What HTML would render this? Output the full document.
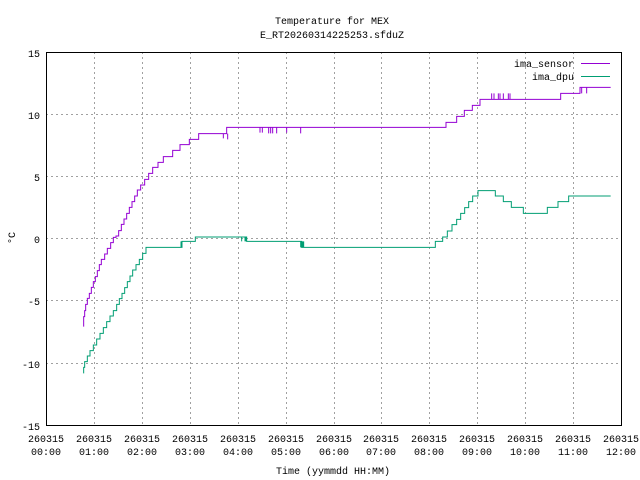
<!DOCTYPE html>
<html><head><meta charset="utf-8"><style>body{margin:0;background:#fff}svg{display:block}text{font-family:"Liberation Mono",monospace;font-size:10px;fill:#000}</style></head><body>
<svg width="640" height="480" xmlns="http://www.w3.org/2000/svg">
<g stroke="#a0a0a0" stroke-width="1" stroke-dasharray="2,3">
<line x1="46" y1="114.5" x2="621" y2="114.5"/><line x1="46" y1="176.5" x2="621" y2="176.5"/><line x1="46" y1="238.5" x2="621" y2="238.5"/><line x1="46" y1="300.5" x2="621" y2="300.5"/><line x1="46" y1="363.5" x2="621" y2="363.5"/>
<line x1="94.5" y1="52" x2="94.5" y2="425"/><line x1="142.5" y1="52" x2="142.5" y2="425"/><line x1="190.5" y1="52" x2="190.5" y2="425"/><line x1="238.5" y1="52" x2="238.5" y2="425"/><line x1="286.5" y1="52" x2="286.5" y2="425"/><line x1="334.5" y1="52" x2="334.5" y2="425"/><line x1="381.5" y1="52" x2="381.5" y2="425"/><line x1="429.5" y1="52" x2="429.5" y2="425"/><line x1="477.5" y1="52" x2="477.5" y2="425"/><line x1="525.5" y1="52" x2="525.5" y2="425"/><line x1="573.5" y1="52" x2="573.5" y2="425"/>
</g>
<rect x="46.5" y="52.5" width="575" height="373" fill="none" stroke="#000"/>
<g transform="translate(0,30) scale(0.3333333)" fill="none" stroke-width="3">
<path stroke="#9400d3" d="M251,890 V860 H254 V842 H257 V823 H262 V805 H268 V790 H274 V772 H280 V755 H286 V740 H292 V722 H298 V704 H304 V688 H314 V672 H322 V655 H332 V638 H340 V622 H348 V618 H356 V602 H364 V583 H372 V567 H380 V550 H388 V532 H396 V515 H404 V498 H412 V480 H422 V465 H434 V448 H446 V430 H458 V412 H474 V397 H490 V380 H518 V361 H540 V344 H568 V328 H596 V311 H680 V292 H1338 V277 H1370 V259 H1393 V241 H1417 V226 H1440 V208 H1682 V190 H1740 V172 H1832 M670,311V325 M683,311V328 M780,292V308 M787,292V308 M806,292V310 M812,292V310 M818,292V310 M830,292V310 M860,292V308 M902,292V310 M1475,190V208 M1482,190V208 M1495,190V208 M1500,190V208 M1510,190V208 M1525,190V208 M1530,190V208 M1745,172V190 M1760,172V190"/>
<path stroke="#009e73" d="M251,1030 V1012 H254 V995 H262 V978 H270 V962 H280 V945 H290 V927 H300 V910 H310 V893 H320 V875 H330 V858 H340 V842 H350 V823 H358 V806 H366 V790 H374 V773 H382 V755 H390 V738 H398 V720 H408 V704 H418 V688 H428 V670 H438 V652 H546 V634 H586 V621 H740 V634 H905 V652 H1306 V634 H1328 V621 H1342 V603 H1356 V584 H1370 V568 H1382 V550 H1394 V533 H1406 V515 H1418 V498 H1434 V482 H1486 V498 H1510 V515 H1534 V532 H1570 V550 H1642 V532 H1674 V515 H1706 V498 H1832 M543,634V652 M725,621V634 M735,621V634 M738,621V634 M902,634V652 M908,634V652 M911,634V652"/>
</g>
<text x="332" y="24" text-anchor="middle">Temperature for MEX</text>
<text x="332" y="38" text-anchor="middle">E_RT20260314225253.sfduZ</text>
<g text-anchor="end">
<text x="40" y="57">15</text><text x="40" y="119">10</text><text x="40" y="181">5</text><text x="40" y="243">0</text><text x="40" y="305">-5</text><text x="40" y="368">-10</text><text x="40" y="430">-15</text>
<text x="574" y="67">ima_sensor</text><text x="574" y="80">ima_dpu</text>
</g>
<line x1="581" y1="63.5" x2="610" y2="63.5" stroke="#9400d3"/>
<line x1="581" y1="76.5" x2="610" y2="76.5" stroke="#009e73"/>
<g text-anchor="middle">
<text x="46" y="442">260315</text><text x="46" y="455">00:00</text>
<text x="94" y="442">260315</text><text x="94" y="455">01:00</text>
<text x="142" y="442">260315</text><text x="142" y="455">02:00</text>
<text x="190" y="442">260315</text><text x="190" y="455">03:00</text>
<text x="238" y="442">260315</text><text x="238" y="455">04:00</text>
<text x="286" y="442">260315</text><text x="286" y="455">05:00</text>
<text x="334" y="442">260315</text><text x="334" y="455">06:00</text>
<text x="381" y="442">260315</text><text x="381" y="455">07:00</text>
<text x="429" y="442">260315</text><text x="429" y="455">08:00</text>
<text x="477" y="442">260315</text><text x="477" y="455">09:00</text>
<text x="525" y="442">260315</text><text x="525" y="455">10:00</text>
<text x="573" y="442">260315</text><text x="573" y="455">11:00</text>
<text x="621" y="442">260315</text><text x="621" y="455">12:00</text>
<text x="333" y="474">Time (yymmdd HH:MM)</text>
<text transform="translate(15,238) rotate(-90)">°C</text>
</g>
</svg>
</body></html>
